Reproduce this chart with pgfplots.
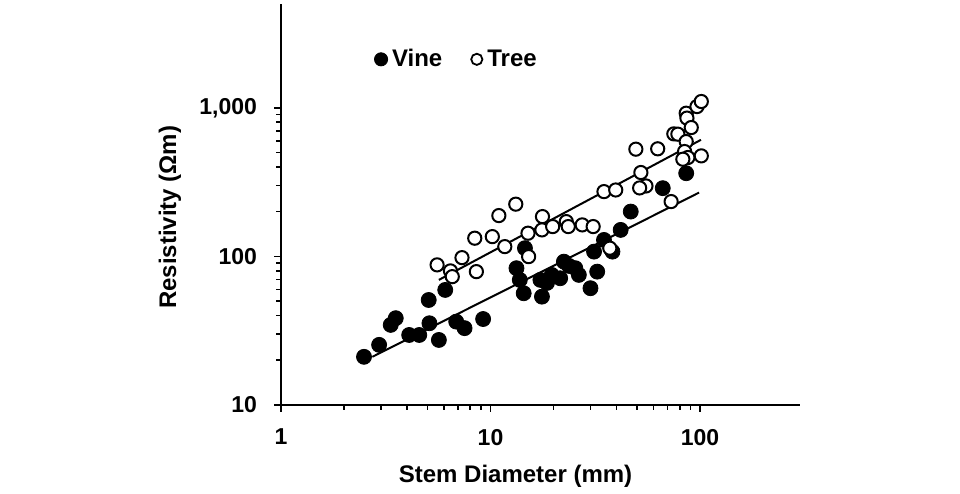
\documentclass[border=0pt]{standalone}
\usepackage{fontspec}
\setmainfont{Liberation Sans}
\usepackage{pgfplots}
\pgfplotsset{compat=1.18}
\begin{document}
\begin{tikzpicture}
\begin{axis}[
  name=ax, at={(0,0)}, anchor=south west,
  scale only axis, width=259.5pt, height=200.5pt,
  xmode=log, ymode=log,
  xmin=1, xmax=300, ymin=10, ymax=5000,
  axis lines=left, axis line style={-, line width=1pt, black},
  tick align=outside,
  major tick length=3.5pt, minor tick length=2.5pt,
  every tick/.style={black, line width=0.8pt},
  xtick={1,10,100}, xticklabels={1,10,100},
  ytick={10,100,1000}, yticklabels={10,100,{1,000}},
  tick label style={font=\fontsize{11.5}{13}\selectfont\bfseries},
  /pgf/number format/assume math mode=true,
  xticklabel style={yshift=-5pt},
  yticklabel style={xshift=-5pt},
  xlabel={Stem Diameter (mm)}, ylabel={Resistivity (Ωm)},
  label style={font=\fontsize{12}{14}\selectfont\bfseries},
  xlabel style={at={(axis description cs:0.452,-0.177)}, anchor=center},
  ylabel style={at={(axis description cs:-0.214,0.468)}, anchor=center},
  legend columns=2,
  legend style={draw=none, fill=none, at={(axis description cs:0.167,0.862)}, anchor=west,
    font=\fontsize{12}{14}\selectfont\bfseries,
    /tikz/every even column/.append style={column sep=12pt}},
]
\addplot[only marks, mark=*, mark size=3.75pt, black, mark options={fill=black},
  legend image code/.code={\fill[black] (0cm,0cm) circle (3.3pt);}]
coordinates {
(2.49,21.1) (2.94,25.4) (3.34,34.6) (3.53,38.4) (4.09,29.6) (4.57,29.6)
(5.11,35.5) (5.07,50.9) (5.67,27.4) (6.08,59.5) (6.86,36.4) (7.52,32.9)
(9.22,37.9) (13.3,83.3) (13.8,69.5) (14.4,56.5) (14.6,113.6) (17.6,53.6)
(17.3,69.5) (19.6,75.1) (22.4,92.2) (21.5,71.3) (25.4,83.3) (26.4,75.1)
(23.7,86.3) (18.6,66.3)
(32.3,79.0) (30.0,61.1) (31.2,107.7) (34.8,129.1) (38.2,107.7) (41.8,150.8)
(46.7,200.4) (66.4,288) (85.9,363)
};
\addlegendentry{Vine}
\addplot[only marks, mark=*, mark size=3.3pt, black,
  mark options={fill=white, draw=black, line width=1pt},
  legend image code/.code={\draw[black, line width=0.9pt, fill=white] (0cm,0cm) circle (2.8pt);}]
coordinates {
(5.56,87.7) (6.44,79.9) (6.57,73.1) (7.31,98.1) (8.56,79.0) (8.41,132.6)
(10.2,135.9) (10.96,188.3) (11.7,116.4) (13.2,224.7) (15.1,143.3) (15.2,99.7)
(17.7,185.4) (17.6,150.8) (19.8,158.8) (23.0,171.5) (23.5,158.8) (27.4,163)
(30.9,158.8) (37.1,113.6) (34.8,273) (39.6,280) (49.4,527) (62.8,530)
(52.2,367) (55.2,298) (51.5,289) (72.8,234) (75.0,668) (78.4,665)
(85.9,920) (86.6,853) (90.8,737) (96.7,1020) (101.4,1103) (85.9,593)
(84.4,508) (87.5,463) (101.4,475) (82.8,451)
};
\addlegendentry{Tree}
\addplot[black, line width=1pt, forget plot] coordinates {(2.73,21.1) (99,269)};
\addplot[black, line width=1pt, forget plot] coordinates {(5.67,69.5) (101,609)};
\end{axis}
\path (0,0) ++(-140.5pt,-43.5pt) rectangle ++(480pt,246pt);
\end{tikzpicture}
\end{document}
